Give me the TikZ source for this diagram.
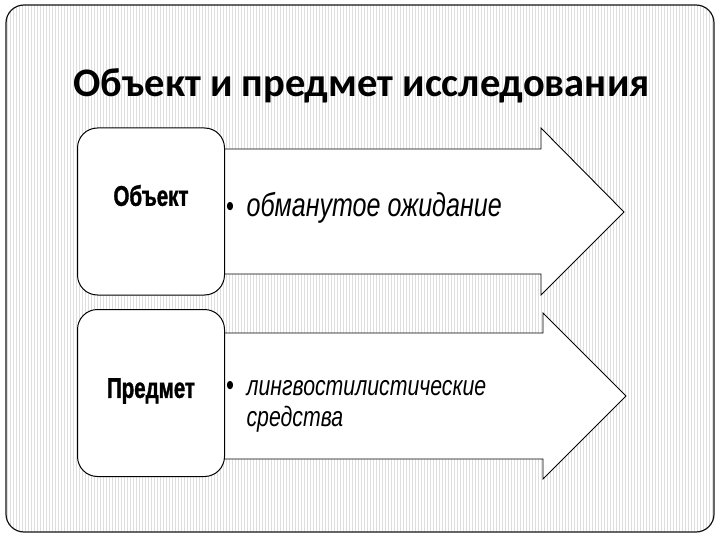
\documentclass[tikz,border=0pt]{standalone}
\usepackage{fontspec}
\setmainfont{Carlito}
\newfontfamily\narrowfont[FakeStretch=0.76]{Liberation Sans}
\newfontfamily\labelfont[FakeStretch=0.72, BoldFeatures={FakeStretch=0.72, FakeBold=1.2}]{Liberation Sans}
\usetikzlibrary{positioning}
\definecolor{StripeGray}{RGB}{222,222,222}
\definecolor{FrameBlack}{RGB}{20,20,20}

\begin{document}
\begin{tikzpicture}[x=1pt, y=-1pt,
      stripe/.style={StripeGray, line width=0.9pt},
      frame/.style={draw=FrameBlack, line width=1.2pt, rounded corners=18pt},
      box/.style={rectangle, draw=black, line width=1pt, fill=white, rounded corners=20pt,
      minimum width=147pt, minimum height=167pt, inner sep=0pt},
      flow/.style={draw=black, line width=0.9pt, fill=white},
      heading/.style={font=\bfseries\fontsize{40.5}{46}\selectfont, anchor=base west, inner sep=0pt},
      boxlabel/.style={font=\labelfont\bfseries\fontsize{28.5}{30}\selectfont, inner sep=0pt},
      item/.style={font=\narrowfont\itshape\fontsize{33}{36}\selectfont, anchor=base west, inner sep=0pt},
      dot/.style={font=\narrowfont\fontsize{30}{32}\selectfont, anchor=base west, inner sep=0pt}
    ]
      \useasboundingbox (0,0) rectangle (720,540);
      % striped background inside the frame
      \begin{scope}
        \clip[rounded corners=18pt] (6,5) rectangle (714,532);
        \fill[white] (6,5) rectangle (714,532);
        \foreach \x in {7,10,...,714}
          \draw[stripe] (\x,5) -- (\x,532);
      \end{scope}
      \draw[frame] (6,5) rectangle (714,532);

      \node[heading] (heading) at (73,97) {Объект и предмет исследования};

      % arrows
      \draw[flow] (220,149) -- (541,149) -- (541,128) -- (624,212) -- (541,295) -- (541,274) -- (220,274) -- cycle;
      \draw[flow] (220,333) -- (543,333) -- (543,313) -- (626,396) -- (543,479) -- (543,459) -- (220,459) -- cycle;

      % boxes
      \node[box] (objbox) at (151,211.5) {};
      \node[box] (subjbox) at (151,393) {};
      \node[boxlabel] (objlabel) at ([yshift=16pt]objbox.center) {Объект};
      \node[boxlabel] (subjlabel) at ([yshift=2pt]subjbox.center) {Предмет};

      % items
      \node[dot] (objdot) at (226,216) {•};
      \node[item, right=12pt of objdot.base east, anchor=base west] (objitem) {обманутое ожидание};
      \node[dot] (subjdot) at (226,395) {•};
      \node[item, font=\narrowfont\itshape\fontsize{28}{31}\selectfont, right=12pt of subjdot.base east, anchor=base west] (subjitem)
        {\begin{tabular}[t]{@{}l@{}}лингвостилистические\\средства\end{tabular}};
    \end{tikzpicture}
\end{document}
